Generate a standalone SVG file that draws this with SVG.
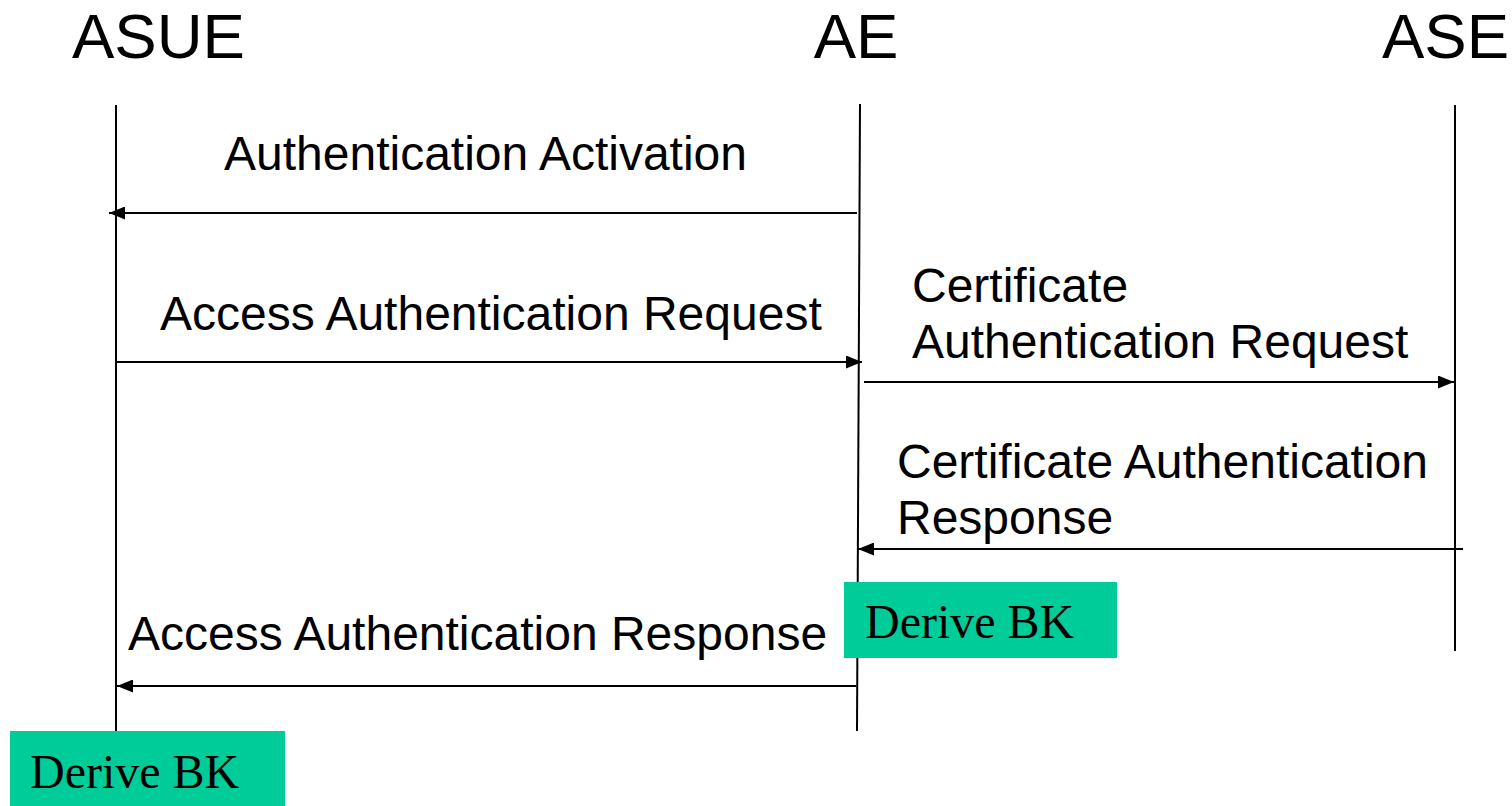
<svg xmlns="http://www.w3.org/2000/svg" width="1512" height="806" viewBox="0 0 1512 806">
  <style>
    .title { font-family: "Liberation Sans", Arial, sans-serif; font-size: 63.5px; fill: #000; }
    .label { font-family: "Liberation Sans", Arial, sans-serif; font-size: 48px; fill: #000; }
    .life { stroke: #000; stroke-width: 2; fill: none; }
    .msg { stroke: #000; stroke-width: 2; fill: none; marker-end: url(#arrow); }
    .box { fill: #00CC99; }
    .boxtext { font-family: "Liberation Serif", "Times New Roman", serif; font-size: 48px; fill: #000; }
  </style>
  <defs>
    <marker id="arrow" viewBox="0 0 16 13" refX="16" refY="6.5" markerWidth="16" markerHeight="13" markerUnits="userSpaceOnUse" orient="auto">
      <path d="M0,0 L16,6.5 L0,13 Z" fill="#000"/>
    </marker>
  </defs>
  <rect width="1512" height="806" fill="#fff"/>

  <g id="asue">
    <text class="title" x="72" y="58">ASUE</text>
    <line class="life" x1="116" y1="105" x2="116" y2="731"/>
  </g>
  <g id="ae">
    <text class="title" x="856" y="58" text-anchor="middle">AE</text>
    <line class="life" x1="860" y1="104" x2="857" y2="731"/>
  </g>
  <g id="ase">
    <text class="title" x="1382" y="58">ASE</text>
    <line class="life" x1="1455" y1="105" x2="1455" y2="651"/>
  </g>

  <g id="connectors">
    <line class="msg" x1="857" y1="213" x2="109" y2="213"/>
    <line class="msg" x1="116" y1="362" x2="862" y2="362"/>
    <line class="msg" x1="864" y1="382" x2="1454" y2="382"/>
    <line class="msg" x1="1463" y1="549" x2="858" y2="549"/>
    <line class="msg" x1="856" y1="686" x2="117" y2="686"/>
  </g>

  <g id="labels">
    <text class="label" x="224" y="170">Authentication Activation</text>
    <text class="label" x="160" y="330">Access Authentication Request</text>
    <text class="label" x="912" y="302">Certificate</text>
    <text class="label" x="912" y="358">Authentication Request</text>
    <text class="label" x="897" y="478">Certificate Authentication</text>
    <text class="label" x="897" y="534">Response</text>
    <text class="label" x="128" y="650">Access Authentication Response</text>
  </g>

  <g id="derive-bk-ae">
    <rect class="box" x="844" y="582" width="273" height="76"/>
    <text class="boxtext" x="865" y="638">Derive BK</text>
  </g>
  <g id="derive-bk-asue">
    <rect class="box" x="10" y="731" width="275" height="75"/>
    <text class="boxtext" x="30" y="788">Derive BK</text>
  </g>
</svg>
